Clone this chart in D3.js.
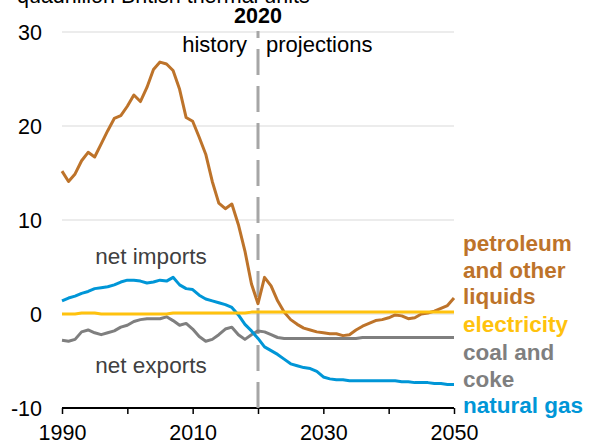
<!DOCTYPE html>
<html>
<head>
<meta charset="utf-8">
<script src="https://cdn.jsdelivr.net/npm/d3@7"></script>
<style>
    body { margin: 0; background: #fff; }
    text { font-family: Arial, "Liberation Sans", sans-serif; }
</style>
</head>
<body>
<div id="chart"></div>
<script>

// Data (quadrillion Btu, net trade)
var years = [1990, 1991, 1992, 1993, 1994, 1995, 1996, 1997, 1998, 1999,
    2000, 2001, 2002, 2003, 2004, 2005, 2006, 2007, 2008, 2009,
    2010, 2011, 2012, 2013, 2014, 2015, 2016, 2017, 2018, 2019,
    2020, 2021, 2022, 2023, 2024, 2025, 2026, 2027, 2028, 2029,
    2030, 2031, 2032, 2033, 2034, 2035, 2036, 2037, 2038, 2039,
    2040, 2041, 2042, 2043, 2044, 2045, 2046, 2047, 2048, 2049, 2050];

var petroleum = [15.2, 14.1, 14.9, 16.3, 17.2, 16.7, 18.1, 19.5, 20.8, 21.1,
    22.1, 23.3, 22.6, 24.1, 26.0, 26.8, 26.6, 25.9, 23.9, 20.9,
    20.5, 18.8, 17.0, 14.1, 11.8, 11.2, 11.7, 9.5, 6.7, 3.2,
    1.1, 3.9, 3.0, 1.4, 0.2, -0.6, -1.1, -1.5, -1.7, -1.9,
    -2.0, -2.1, -2.1, -2.3, -2.2, -1.7, -1.3, -1.0, -0.7, -0.6,
    -0.4, -0.1, -0.2, -0.5, -0.4, 0.0, 0.1, 0.3, 0.6, 0.9, 1.7];

var electricity = [0.0, 0.0, 0.0, 0.1, 0.1, 0.1, 0.0, 0.0, 0.0, 0.0,
    0.0, 0.0, 0.0, 0.0, 0.0, 0.0, 0.0, 0.1, 0.1, 0.1,
    0.1, 0.1, 0.1, 0.1, 0.1, 0.1, 0.1, 0.1, 0.1, 0.2,
    0.2, 0.2, 0.2, 0.2, 0.2, 0.2, 0.2, 0.2, 0.2, 0.2,
    0.2, 0.2, 0.2, 0.2, 0.2, 0.2, 0.2, 0.2, 0.2, 0.2,
    0.2, 0.2, 0.2, 0.2, 0.2, 0.2, 0.2, 0.2, 0.2, 0.2, 0.2];

var coal = [-2.8, -2.9, -2.7, -1.9, -1.7, -2.0, -2.2, -2.0, -1.8, -1.4,
    -1.2, -0.8, -0.6, -0.5, -0.5, -0.5, -0.3, -0.7, -1.2, -1.0,
    -1.6, -2.4, -2.9, -2.7, -2.2, -1.6, -1.4, -2.2, -2.7, -2.2,
    -1.8, -1.9, -2.2, -2.5, -2.6, -2.6, -2.6, -2.6, -2.6, -2.6,
    -2.6, -2.6, -2.6, -2.6, -2.6, -2.6, -2.5, -2.5, -2.5, -2.5,
    -2.5, -2.5, -2.5, -2.5, -2.5, -2.5, -2.5, -2.5, -2.5, -2.5, -2.5];

var naturalGas = [1.4, 1.7, 1.9, 2.2, 2.4, 2.7, 2.8, 2.9, 3.1, 3.4,
    3.6, 3.6, 3.5, 3.3, 3.4, 3.6, 3.5, 3.9, 3.1, 2.7,
    2.6, 2.0, 1.6, 1.4, 1.2, 1.0, 0.7, -0.1, -1.1, -1.8,
    -2.6, -3.5, -3.9, -4.3, -4.8, -5.3, -5.5, -5.7, -5.8, -6.1,
    -6.7, -6.9, -7.0, -7.0, -7.1, -7.1, -7.1, -7.1, -7.1, -7.1,
    -7.1, -7.1, -7.2, -7.2, -7.3, -7.3, -7.3, -7.4, -7.4, -7.5, -7.5];

var yTicks = [-10, 0, 10, 20, 30];
var xTicks = [1990, 2000, 2010, 2020, 2030, 2040, 2050];
var xTickLabels = [1990, 2010, 2030, 2050];

// Canvas
var width = 591, height = 447;
var plot = {left: 62, right: 454, top: 32, bottom: 408};

var svg = d3.select("#chart").append("svg")
    .attr("width", width)
    .attr("height", height);

var x = d3.scaleLinear().domain([1990, 2050]).range([plot.left, plot.right]);
var y = d3.scaleLinear().domain([-10, 30]).range([plot.bottom, plot.top]);

// Gridlines
svg.selectAll(".grid")
    .data(yTicks.filter(function(d) { return d > -10; }))
    .enter().append("line")
    .attr("x1", plot.left)
    .attr("x2", plot.right)
    .attr("y1", function(d) { return y(d); })
    .attr("y2", function(d) { return y(d); })
    .style("stroke", "#d9d9d9")
    .style("stroke-width", 1);

// Y tick labels
svg.selectAll(".ylabel")
    .data(yTicks)
    .enter().append("text")
    .attr("x", 42)
    .attr("y", function(d) { return y(d); })
    .attr("dy", "0.35em")
    .attr("text-anchor", "end")
    .style("font-size", "21.5px")
    .style("fill", "#000")
    .text(function(d) { return d; });

// X axis
var xAxis = d3.axisBottom(x)
    .tickValues(xTicks)
    .tickSize(6)
    .tickFormat(function(d) { return xTickLabels.indexOf(d) >= 0 ? d : ""; });

var gx = svg.append("g")
    .attr("transform", "translate(0," + plot.bottom + ")")
    .call(xAxis);

gx.select(".domain").attr("d", "M" + plot.left + ",0H" + plot.right)
    .style("stroke", "#000").style("stroke-width", 2);
gx.selectAll(".tick line").style("stroke", "#000").style("stroke-width", 1.5);
gx.selectAll(".tick text")
    .attr("y", 17)
    .attr("dy", "0.71em")
    .style("font-size", "21.5px")
    .style("font-family", "Arial, 'Liberation Sans', sans-serif")
    .style("fill", "#000");

// Units title (cut off at top edge)
svg.append("text")
    .attr("x", 17)
    .attr("y", 3)
    .style("font-size", "21.5px")
    .style("fill", "#000")
    .text("quadrillion British thermal units");

// 2020 divider, dashed from the axis upward
svg.append("line")
    .attr("x1", x(2020))
    .attr("x2", x(2020))
    .attr("y1", plot.bottom)
    .attr("y2", plot.top - 1)
    .style("stroke", "#a6a6a6")
    .style("stroke-width", 3)
    .style("stroke-dasharray", "26,11");

svg.append("text")
    .attr("x", x(2020))
    .attr("y", 23)
    .attr("text-anchor", "middle")
    .style("font-size", "21.5px")
    .style("font-weight", "bold")
    .text("2020");

svg.append("text")
    .attr("x", x(2020) - 11)
    .attr("y", 52)
    .attr("text-anchor", "end")
    .style("font-size", "22px")
    .text("history");

svg.append("text")
    .attr("x", x(2020) + 8)
    .attr("y", 52)
    .attr("text-anchor", "start")
    .style("font-size", "22px")
    .text("projections");

// Series lines
var line = d3.line()
    .x(function(d, i) { return x(years[i]); })
    .y(function(d) { return y(d); });

var series = [
    {values: coal, color: "#7f7f7f"},
    {values: naturalGas, color: "#0096d7"},
    {values: petroleum, color: "#bd732a"},
    {values: electricity, color: "#ffc20e"}
];

svg.selectAll(".series")
    .data(series)
    .enter().append("path")
    .attr("d", function(d) { return line(d.values); })
    .style("fill", "none")
    .style("stroke", function(d) { return d.color; })
    .style("stroke-width", 3)
    .style("stroke-linejoin", "round");

// Annotations
svg.append("text")
    .attr("x", 151)
    .attr("y", 264)
    .attr("text-anchor", "middle")
    .style("font-size", "22.5px")
    .style("fill", "#404040")
    .text("net imports");

svg.append("text")
    .attr("x", 151)
    .attr("y", 373)
    .attr("text-anchor", "middle")
    .style("font-size", "22.5px")
    .style("fill", "#404040")
    .text("net exports");

// Series labels
var labels = [
    {text: "petroleum", y: 251, color: "#bd732a"},
    {text: "and other", y: 278, color: "#bd732a"},
    {text: "liquids", y: 304, color: "#bd732a"},
    {text: "electricity", y: 332, color: "#ffc20e"},
    {text: "coal and", y: 360, color: "#7f7f7f"},
    {text: "coke", y: 387, color: "#7f7f7f"},
    {text: "natural gas", y: 413, color: "#0096d7"}
];

svg.selectAll(".label")
    .data(labels)
    .enter().append("text")
    .attr("x", 463)
    .attr("y", function(d) { return d.y; })
    .style("font-size", "22.5px")
    .style("font-weight", "bold")
    .style("fill", function(d) { return d.color; })
    .text(function(d) { return d.text; });

</script>
</body>
</html>
